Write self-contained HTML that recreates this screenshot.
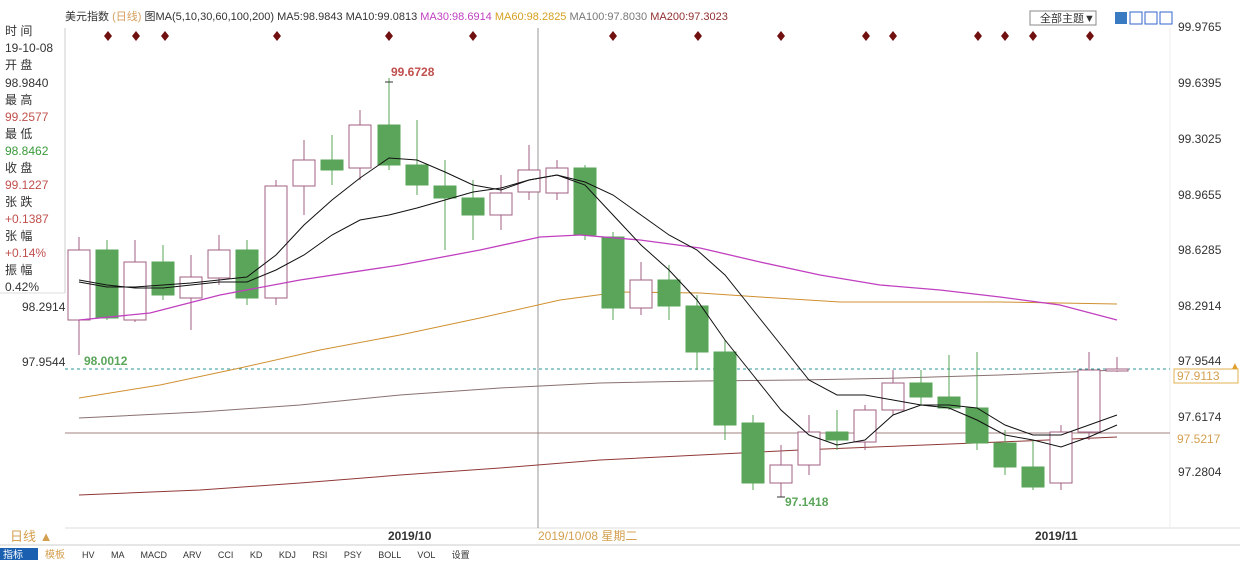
<!DOCTYPE html>
<html><head><meta charset="utf-8"><style>
body{margin:0;background:#fff;width:1240px;height:575px;overflow:hidden;font-family:"Liberation Sans","Noto Sans CJK SC",sans-serif}
svg text{font-family:"Liberation Sans","Noto Sans CJK SC",sans-serif}
</style></head><body>
<svg id="s" width="1240" height="575" viewBox="0 0 1240 575" xmlns="http://www.w3.org/2000/svg">
<rect width="1240" height="575" fill="#fff"/>
<line x1="65" y1="28" x2="65" y2="293" stroke="#ccc"/>
<line x1="0" y1="293" x2="65" y2="293" stroke="#ddd"/>
<line x1="65" y1="528" x2="1240" y2="528" stroke="#ddd"/>
<line x1="0" y1="545" x2="1240" y2="545" stroke="#ccc"/>
<line x1="538" y1="28" x2="538" y2="528" stroke="#999"/>
<line x1="1170" y1="28" x2="1170" y2="528" stroke="#eee"/>
<g font-size="12" fill="#333">
<text x="5" y="35">时 间</text><text x="5" y="52">19-10-08</text>
<text x="5" y="69">开 盘</text><text x="5" y="87">98.9840</text>
<text x="5" y="104">最 高</text><text x="5" y="121" fill="#c0504d">99.2577</text>
<text x="5" y="138">最 低</text><text x="5" y="155" fill="#3a9a3a">98.8462</text>
<text x="5" y="172">收 盘</text><text x="5" y="189" fill="#c0504d">99.1227</text>
<text x="5" y="206">张 跌</text><text x="5" y="223" fill="#c0504d">+0.1387</text>
<text x="5" y="240">张 幅</text><text x="5" y="257" fill="#c0504d">+0.14%</text>
<text x="5" y="274">振 幅</text><text x="5" y="291">0.42%</text>
<text x="22" y="311">98.2914</text><text x="22" y="366">97.9544</text>
</g>
<text x="65" y="20" font-size="11" fill="#333">美元指数 <tspan fill="#d4a060">(日线)</tspan> 图MA(5,10,30,60,100,200) MA5:98.9843 MA10:99.0813 <tspan fill="#c040c0">MA30:98.6914</tspan> <tspan fill="#d4a020">MA60:98.2825</tspan> <tspan fill="#777">MA100:97.8030</tspan> <tspan fill="#903030">MA200:97.3023</tspan></text>
<rect x="1030" y="11" width="66" height="14" fill="#fff" stroke="#888"/>
<text x="1040" y="22" font-size="11" fill="#333">全部主题▼</text>
<rect x="1115" y="12" width="12" height="12" fill="#3a7ac0"/><rect x="1130" y="12" width="12" height="12" fill="#fff" stroke="#36c"/><rect x="1145" y="12" width="12" height="12" fill="#fff" stroke="#36c"/><rect x="1160" y="12" width="12" height="12" fill="#fff" stroke="#36c"/>
<g font-size="12" fill="#333">
<text x="1178" y="31">99.9765</text><text x="1178" y="87">99.6395</text><text x="1178" y="143">99.3025</text><text x="1178" y="199">98.9655</text><text x="1178" y="254">98.6285</text><text x="1178" y="310">98.2914</text><text x="1178" y="365">97.9544</text><text x="1178" y="421">97.6174</text><text x="1178" y="476">97.2804</text>
</g>
<rect x="1174" y="369" width="64" height="14" fill="#fff" stroke="#e0b050"/>
<text x="1177" y="380" font-size="12" fill="#d4a050">97.9113</text>
<text x="1177" y="443" font-size="12" fill="#d4a050">97.5217</text>
<text x="1230" y="369" font-size="10" fill="#e0a030">▲</text>
<line x1="65" y1="369" x2="1170" y2="369" stroke="#2a9a9a" stroke-dasharray="3,3"/>
<line x1="65" y1="433" x2="1170" y2="433" stroke="#a08080"/>
<g id="c"></g>
<text x="391" y="76" font-size="12" font-weight="bold" fill="#c0504d">99.6728</text>
<text x="785" y="506" font-size="12" font-weight="bold" fill="#5aa55a">97.1418</text>
<text x="84" y="365" font-size="12" font-weight="bold" fill="#5aa55a">98.0012</text>
<text x="388" y="540" font-size="12" font-weight="bold" fill="#333">2019/10</text>
<text x="538" y="540" font-size="12" fill="#d4a050">2019/10/08 星期二</text>
<text x="1035" y="540" font-size="12" font-weight="bold" fill="#333">2019/11</text>
<text x="10" y="541" font-size="13" fill="#d4a050">日线 ▲</text>
<rect x="0" y="548" width="38" height="12" fill="#1a5fb0"/>
<text x="3" y="558" font-size="10" fill="#fff">指标</text>
<text x="45" y="558" font-size="10" fill="#d4a050">模板</text>
<text x="82" y="558" font-size="9" fill="#333" word-spacing="14">HV MA MACD ARV CCI KD KDJ RSI PSY BOLL VOL 设置</text>
</svg>
<script>
var C=[[79,250,320,237,355,1],[107,250,318,240,320,0],[135,262,320,240,322,1],[163,262,295,245,300,0],[191,277,298,255,330,1],[219,250,278,235,285,1],[247,250,298,240,305,0],[276,186,298,180,305,1],[304,160,186,140,215,1],[332,160,170,135,185,0],[360,125,168,110,180,1],[389,125,165,78,170,0],[417,165,185,120,195,0],[445,186,198,160,250,0],[473,198,215,180,240,0],[501,193,215,175,230,1],[529,170,192,145,200,1],[557,168,193,160,200,1],[585,168,235,165,240,0],[613,237,308,232,320,0],[641,280,308,262,315,1],[669,280,306,265,320,0],[697,306,352,295,370,0],[725,352,425,340,440,0],[753,423,483,415,490,0],[781,465,483,445,497,1],[809,432,465,415,475,1],[837,432,440,410,450,0],[865,410,442,405,450,1],[893,383,410,370,415,1],[921,383,397,370,405,0],[949,397,408,355,410,0],[977,408,443,352,450,0],[1005,443,467,430,475,0],[1033,467,487,440,490,0],[1061,432,483,425,490,1],[1089,370,432,352,440,1],[1117,369,371,357,372,1]];
var dx=[108,136,165,277,389,473,613,698,781,866,893,978,1005,1033,1090];
var h='';
function pl(p,c,w){return '<polyline fill="none" stroke="'+c+'" stroke-width="'+(w||1)+'" points="'+p.map(function(a){return a.join(',')}).join(' ')+'"/>';}
h+=pl([[79,495],[200,490],[300,483],[400,475],[500,468],[600,460],[700,455],[800,450],[900,446],[1000,442],[1117,437]],'#903838');
h+=pl([[79,418],[200,412],[300,405],[400,395],[500,388],[600,383],[700,381],[800,380],[900,378],[1000,375],[1117,370]],'#8a7070');
h+=pl([[79,398],[160,385],[240,368],[320,350],[400,335],[480,318],[560,300],[620,292],[700,293],[760,297],[840,302],[1000,302],[1117,304]],'#d09030');
C.forEach(function(c){var x=c[0],col=c[5]?'#a06080':'#5aa55a';
h+='<line x1="'+x+'" y1="'+c[3]+'" x2="'+x+'" y2="'+c[4]+'" stroke="'+col+'"/>';
h+='<rect x="'+(x-11)+'" y="'+c[1]+'" width="22" height="'+Math.max(1,c[2]-c[1])+'" fill="'+(c[5]?'#fff':'#5aa55a')+'" stroke="'+col+'"/>';});
h+=pl([[79,320],[150,313],[220,295],[300,280],[400,265],[480,250],[540,237],[580,235],[640,240],[700,248],[760,262],[820,275],[880,285],[940,290],[1000,297],[1060,305],[1117,320]],'#c040c0',1.3);
h+=pl([[79,282],[107,287],[135,287],[163,285],[191,283],[219,280],[247,277],[276,255],[304,225],[332,200],[360,178],[389,158],[417,160],[445,172],[473,185],[501,190],[529,180],[557,175],[585,185],[613,215],[641,245],[669,270],[697,300],[725,340],[753,375],[781,410],[809,435],[837,445],[865,440],[893,415],[921,405],[949,408],[977,420],[1005,435],[1033,440],[1061,447],[1089,437],[1117,425]],'#111');
h+=pl([[79,280],[107,285],[135,288],[163,288],[191,285],[219,282],[247,282],[276,270],[304,255],[332,235],[360,220],[389,215],[417,208],[445,200],[473,192],[501,188],[529,180],[557,175],[585,182],[613,195],[641,215],[669,235],[697,250],[725,275],[753,310],[781,345],[809,380],[837,395],[865,395],[893,400],[921,405],[949,405],[977,408],[1005,425],[1033,435],[1061,435],[1089,425],[1117,415]],'#111');
dx.forEach(function(x){h+='<path d="M'+x+' 31 L'+(x+4)+' 36 L'+x+' 41 L'+(x-4)+' 36Z" fill="#701010"/>';});
h+='<line x1="385" y1="82" x2="393" y2="82" stroke="#333"/><line x1="777" y1="497" x2="785" y2="497" stroke="#333"/>';
document.getElementById('c').innerHTML=h;
</script>
</body></html>
